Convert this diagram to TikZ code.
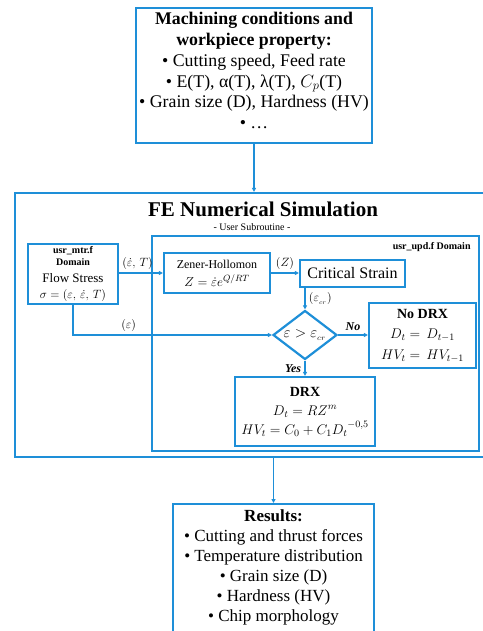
\RequirePackage{fix-cm}
\documentclass[tikz,border=0pt]{standalone}
\usepackage{fontspec}
\setmainfont{Liberation Serif}
\usetikzlibrary{positioning,shapes.geometric,arrows.meta,calc}
\definecolor{bl}{HTML}{1E8FD8}

\begin{document}
\begin{tikzpicture}[x=1pt,y=-1pt,
  text=black,
  >={Triangle[length=4pt,width=4pt]},
  bx/.style={draw=bl,line width=2.2pt,align=center,inner sep=2pt},
  big/.style={font=\fontsize{17.8}{20.8}\selectfont},
  mid/.style={font=\fontsize{12}{18}\selectfont},
  sml/.style={font=\fontsize{10}{12}\selectfont\bfseries},
  flow/.style={->,draw=bl,line width=1.3pt},
  lbl/.style={font=\fontsize{12}{14}\selectfont},
  ]
\useasboundingbox (0,0) rectangle (482,631);

% ================= input data =================
\node[bx,big,minimum width=236,minimum height=135,inner sep=0pt,text depth=10pt] (inp) at (254,75.5)
  {\textbf{Machining conditions and}\\\textbf{workpiece property:}\\• Cutting speed, Feed rate\\• E(T), α(T), λ(T), $C_p$(T)\\• Grain size (D), Hardness (HV)\\• …};

% ================= FE frame =================
\node[bx,minimum width=475,minimum height=264] (fe) at (252.5,325) {};
\node[font=\fontsize{21}{24}\selectfont\bfseries] (ttl) at (263,209) {FE Numerical Simulation};
\node[font=\fontsize{10}{12}\selectfont] (sub) at (252,227) {- User Subroutine -};

\node[bx,minimum width=327,minimum height=215] (upd) at (315.5,343.5) {};
\node[sml,anchor=north east] at ([xshift=-6pt,yshift=-4pt]upd.north east) {usr\_upd.f Domain};

% ---- material routine ----
\node[bx,minimum width=90,minimum height=60,inner sep=1pt,font=\fontsize{10}{12}\selectfont] (mtr) at (73,274)
  {\bfseries usr\_mtr.f\\[0pt]
   \bfseries Domain\\[5pt]
   \fontsize{13}{15}\selectfont Flow Stress\\[4pt]
   \fontsize{12}{14}\selectfont $\sigma=(\varepsilon,\,\dot{\varepsilon},\,T)$};

% ---- DRX chain ----
\node[bx,mid,minimum width=106,minimum height=40] (zh) at (217,273)
  {Zener-Hollomon\\\fontsize{13}{18}\selectfont$Z=\dot{\varepsilon}e^{Q/RT}$};
\node[bx,font=\fontsize{16}{18}\selectfont,minimum width=105,minimum height=27] (crit) at (352.5,273.5) {Critical Strain};
\node[draw=bl,line width=2.2pt,diamond,aspect=1.3,inner sep=0pt,minimum width=64,minimum height=49,
      font=\fontsize{15}{17}\selectfont] (dm) at (305,335) {$\varepsilon>\varepsilon_{_{cr}}$};
\node[bx,font=\fontsize{14}{20.5}\selectfont,minimum width=107,minimum height=65] (nodrx) at (422.5,335.5)
  {\textbf{No DRX}\\$D_t=\,D_{t-1}$\\$HV_t=\,HV_{t-1}$};
\node[bx,font=\fontsize{14}{19}\selectfont,minimum width=140,minimum height=69] (drx) at (305,411.5)
  {\textbf{DRX}\\$D_t=RZ^m$\\$HV_t=C_0+C_1{D_t}^{-0,5}$};

% ================= results =================
\node[bx,font=\fontsize{17}{20}\selectfont,minimum width=201,inner sep=6pt,anchor=north] (res) at (273.5,503)
  {\textbf{Results:}\\• Cutting and thrust forces\\• Temperature distribution\\• Grain size (D)\\• Hardness (HV)\\• Chip morphology\\ \strut};

% ================= connectors =================
\draw[flow] (inp.south) -- (inp.south|-fe.north);
\draw[flow] (mtr.east|-zh.west) -- (zh.west) node[lbl,pos=0.42,above] {$(\dot{\varepsilon},\,T)$};
\draw[flow] (zh.east) -- (zh.east-|crit.west) node[lbl,midway,above] {$(Z)$};
\draw[flow] (dm.north|-crit.south) -- (dm.north) node[lbl,midway,right] {$(\varepsilon_{_{cr}})$};
\draw[flow] (mtr.south) |- (dm.west) node[lbl,pos=0.64,above] {$(\varepsilon)$};
\draw[flow] (dm.east) -- (dm.east-|nodrx.west) node[lbl,midway,above] {\textbf{\textit{No}}};
\draw[flow] (dm.south) -- (drx.north) node[lbl,midway,left] {\textbf{\textit{Yes}}};
\draw[flow] (res.north|-fe.south) -- (res.north);

\end{tikzpicture}
\end{document}
